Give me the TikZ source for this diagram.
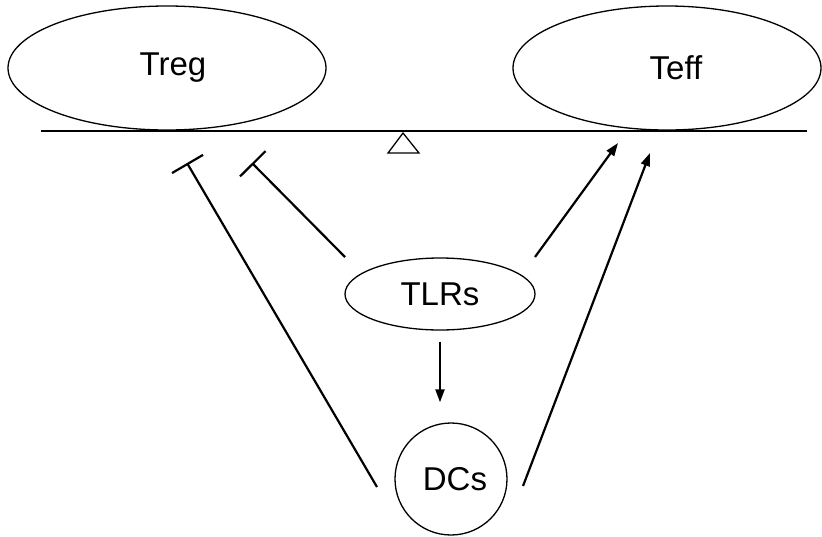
\documentclass[tikz,border=0pt]{standalone}
\usepackage{fontspec}
\setmainfont{Liberation Sans}
\usetikzlibrary{arrows.meta,shapes.geometric}
\tikzstyle{cell} = [draw=black, line width=1.3pt, ellipse, inner sep=0pt,
    font=\fontsize{33}{38}\selectfont]
\tikzstyle{inhibit} = [line width=2.2pt, -{Bar[width=36pt,line width=2.2pt]}]
\tikzstyle{activate} = [line width=2.2pt, -{Triangle[length=13pt,width=9pt]}]

\begin{document}
\begin{tikzpicture}[x=1pt,y=-1pt]
                \useasboundingbox (0,0) rectangle (822,536);
                \node [cell, minimum width=318pt, minimum height=124pt] (treg) at (167,68) {\hspace*{12pt}Treg};
                \node [cell, minimum width=308pt, minimum height=124pt] (teff) at (667,68) {\hspace*{18pt}Teff};
                \node [cell, minimum width=190pt, minimum height=72pt] (tlrs) at (440,294) {TLRs};
                \node [cell, circle, minimum size=112pt] (dcs) at (451,479) {\hspace*{8pt}DCs};
                % beam and fulcrum
                \coordinate (beamL) at (41,131);
                \coordinate (beamR) at (807,131);
                \draw [line width=2.4pt] (beamL) -- (beamR);
                \draw [line width=1.3pt] (388,153) -- (403,133) -- (419,153) -- cycle;
                % connector ends
                \coordinate (dcL) at (377,487);
                \coordinate (dcR) at (523,486);
                \coordinate (tlL) at (345,257);
                \coordinate (tlR) at (535,257);
                \coordinate (tregA) at (187,163);
                \coordinate (tregB) at (252,163);
                \coordinate (teffA) at (618,143);
                \coordinate (teffB) at (650,153);
                \draw [inhibit] (dcL) -- (tregA);
                \draw [inhibit] (tlL) -- (tregB);
                \draw [activate] (tlR) -- (teffA);
                \draw [activate] (dcR) -- (teffB);
                \draw [activate] ([yshift=-11pt]tlrs.south) -- ([yshift=20pt]tlrs.south |- dcs.north);
            \end{tikzpicture}
\end{document}
